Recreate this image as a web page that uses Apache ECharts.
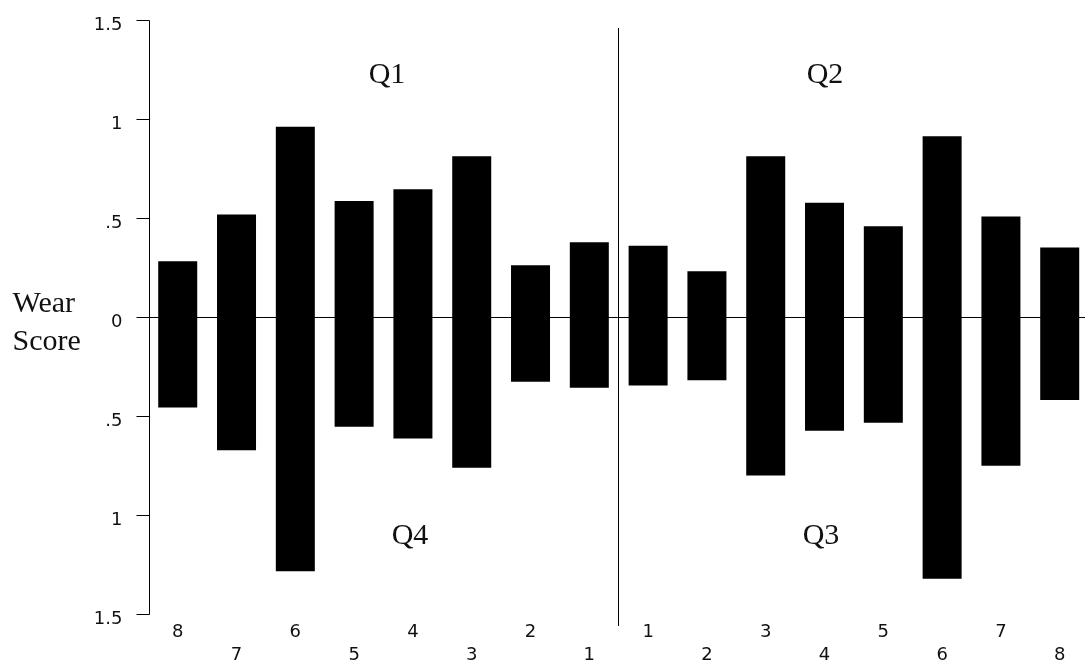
<!DOCTYPE html>
<html><head><meta charset="utf-8">
<script src="https://cdn.jsdelivr.net/npm/echarts@6/dist/echarts.min.js"></script>
<style>html,body{margin:0;padding:0;background:#fff}#c{width:1085px;height:662px}</style>
</head><body><div id="c"></div>
<script>
// ---- data ----
const xLabels = ['8','7','6','5','4','3','2','1','1','2','3','4','5','6','7','8'];
const upperScores = [0.284, 0.520, 0.963, 0.589, 0.648, 0.815, 0.264, 0.380,
                     0.362, 0.234, 0.815, 0.579, 0.461, 0.916, 0.510, 0.354];
const lowerScores = [-0.455, -0.670, -1.281, -0.552, -0.611, -0.759, -0.325, -0.355,
                     -0.343, -0.317, -0.798, -0.572, -0.532, -1.320, -0.749, -0.416];
const yTickValues = [1.5, 1, 0.5, 0, -0.5, -1, -1.5];
const yTickLabels = ['1.5', '1', '.5', '0', '.5', '1', '1.5'];
const quadrantLabels = ['Q1', 'Q2', 'Q3', 'Q4'];
const yAxisTitle = 'Wear\nScore';

// ---- layout helpers ----
const xMin = -0.48, xMax = 15.43;
const yMin = -1.558, yMax = 1.5;
const dividerX = 7.5, dividerTop = 1.462;

const chart = echarts.init(document.getElementById('c'), null, {renderer: 'canvas'});
const digitFont = 'DejaVu Sans';
const serifFont = 'Liberation Serif';
const qFont = '30px "Liberation Serif"';

const option = {
  animation: false,
  backgroundColor: '#fff',
  grid: {left: 149.5, right: 0, top: 20.5, bottom: 36, containLabel: false, outerBoundsMode: 'none'},
  xAxis: {
    type: 'value', min: xMin, max: xMax,
    axisLine: {show: false, onZero: false}, axisTick: {show: false}, splitLine: {show: false},
    axisLabel: {
      customValues: xLabels.map((_, i) => i),
      formatter: v => { const i = Math.round(v); return (i % 2 ? '\n' : '') + xLabels[i]; },
      color: '#111', fontFamily: digitFont, fontSize: 18, lineHeight: 23, margin: -5
    }
  },
  yAxis: {
    type: 'value', min: yMin, max: yMax,
    name: yAxisTitle, nameLocation: 'middle', nameRotate: 0, nameGap: 137,
    nameTextStyle: {align: 'left', fontFamily: serifFont, fontSize: 30, lineHeight: 38,
                    color: '#111', padding: [0, 0, 13, 0]},
    axisLine: {show: false, onZero: false},
    splitLine: {show: false},
    axisTick: {show: true, customValues: yTickValues, length: 13, inside: false,
               lineStyle: {color: '#000', width: 1}},
    axisLabel: {
      customValues: yTickValues,
      formatter: v => '{a|' + yTickLabels[yTickValues.findIndex(t => Math.abs(t - v) < 1e-6)] + '}',
      rich: {a: {color: '#111', fontFamily: digitFont, fontSize: 18, padding: [9, 0, 0, 0]}},
      margin: 27
    }
  },
  series: [
    {
      type: 'bar', name: 'upper', barWidth: 39, barGap: '-100%',
      itemStyle: {color: '#000'},
      data: upperScores.map((v, i) => [i, v]),
      markLine: {
        silent: true, symbol: 'none', label: {show: false},
        lineStyle: {color: '#000', width: 1, type: 'solid'},
        emphasis: {disabled: true},
        data: [
          {yAxis: 0},
          [{coord: [xMin, yMax]}, {coord: [xMin, -1.5]}],
          [{coord: [dividerX, dividerTop]}, {coord: [dividerX, yMin]}]
        ]
      }
    },
    {
      type: 'bar', name: 'lower', barWidth: 39, barGap: '-100%',
      itemStyle: {color: '#000'},
      data: lowerScores.map((v, i) => [i, v])
    }
  ],
  graphic: [
    {type: 'text', x: 387, y: 75, style: {text: quadrantLabels[0], font: qFont, fill: '#111', textAlign: 'center', textVerticalAlign: 'middle'}},
    {type: 'text', x: 825, y: 75, style: {text: quadrantLabels[1], font: qFont, fill: '#111', textAlign: 'center', textVerticalAlign: 'middle'}},
    {type: 'text', x: 821, y: 536, style: {text: quadrantLabels[2], font: qFont, fill: '#111', textAlign: 'center', textVerticalAlign: 'middle'}},
    {type: 'text', x: 410, y: 536, style: {text: quadrantLabels[3], font: qFont, fill: '#111', textAlign: 'center', textVerticalAlign: 'middle'}}
  ]
};
chart.setOption(option);
</script>
</body></html>
